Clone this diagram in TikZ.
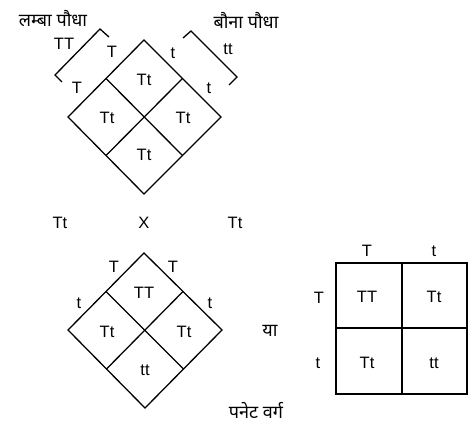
\documentclass[tikz,border=0pt]{standalone}
\usepackage{fontspec}
\usetikzlibrary{calc}
\setmainfont{Liberation Sans}
\newfontfamily\hindi[Script=Devanagari]{Noto Sans}
\begin{document}
\begin{tikzpicture}[x=1pt,y=-1pt,
  ln/.style={line width=1.3pt,line join=miter},
  lbl/.style={inner sep=0pt,font=\fontsize{16.5}{18}\selectfont},
  hlbl/.style={inner sep=0pt,font=\hindi\fontsize{18}{20}\selectfont}]
\useasboundingbox (0,0) rectangle (472,433);
% top diamond
\coordinate (at) at (144,40);
\coordinate (al) at (68,117);
\coordinate (ar) at (221,117);
\coordinate (ab) at (144,194);
\coordinate (ac) at (144,117);
\coordinate (aul) at ($(at)!0.5!(al)$);
\coordinate (aur) at ($(at)!0.5!(ar)$);
\coordinate (all) at ($(ab)!0.5!(al)$);
\coordinate (alr) at ($(ab)!0.5!(ar)$);
\draw[ln] (at) -- (al) -- (ab) -- (ar) -- cycle;
\draw[ln] (aul) -- (alr);
\draw[ln] (aur) -- (all);
% brackets
\coordinate (b1a) at (109,37);
\coordinate (b1b) at (100,29);
\coordinate (b1c) at (55,75);
\coordinate (b1d) at (62,82);
\draw[ln] (b1a) -- (b1b) -- (b1c) -- (b1d);
\coordinate (b2a) at (183,38);
\coordinate (b2b) at (191,31);
\coordinate (b2c) at (237,77);
\coordinate (b2d) at (229,85);
\draw[ln] (b2a) -- (b2b) -- (b2c) -- (b2d);
% top labels
\node[hlbl] (tall) at (53,19) {लम्बा पौधा};
\node[hlbl] (dwarf) at (246,20) {बौना पौधा};
\node[lbl] (lTT) at (64,44) {TT};
\node[lbl] (lT1) at (112,52) {T};
\node[lbl] (lT2) at (77,88) {T};
\node[lbl] (lt1) at (173,53) {t};
\node[lbl] (lt2) at (209,88) {t};
\node[lbl] (ltt) at (228,49) {tt};
\node[lbl] (c1) at (144,80) {Tt};
\node[lbl] (c2) at (107,118) {Tt};
\node[lbl] (c3) at (183,118) {Tt};
\node[lbl] (c4) at (144,155) {Tt};
% cross row
\node[lbl] (p1) at (60,223) {Tt};
\node[lbl] (px) at (144,223) {X};
\node[lbl] (p2) at (235,223) {Tt};
% bottom diamond
\coordinate (bt) at (144,253);
\coordinate (bl) at (68,330);
\coordinate (br) at (222,330);
\coordinate (bb) at (145,408);
\coordinate (bul) at ($(bt)!0.5!(bl)$);
\coordinate (bur) at ($(bt)!0.5!(br)$);
\coordinate (bll) at ($(bb)!0.5!(bl)$);
\coordinate (blr) at ($(bb)!0.5!(br)$);
\draw[ln] (bt) -- (bl) -- (bb) -- (br) -- cycle;
\draw[ln] (bul) -- (blr);
\draw[ln] (bur) -- (bll);
\node[lbl] (dT1) at (114,267) {T};
\node[lbl] (dT2) at (173,267) {T};
\node[lbl] (dt1) at (79,303) {t};
\node[lbl] (dt2) at (210,303) {t};
\node[lbl] (d1) at (144,293) {TT};
\node[lbl] (d2) at (107,332) {Tt};
\node[lbl] (d3) at (184,332) {Tt};
\node[lbl] (d4) at (145,370) {tt};
\node[hlbl] (ya) at (270,331) {या};
\node[hlbl] (punnett) at (256,410) {पनेट वर्ग};
% square grid
\coordinate (s1) at (336,263);
\coordinate (s2) at (467,394);
\coordinate (sm1) at (402,263);
\coordinate (sm2) at (402,394);
\coordinate (sm3) at (336,328);
\coordinate (sm4) at (467,328);
\draw[ln] (s1) rectangle (s2);
\draw[ln] (sm1) -- (sm2);
\draw[ln] (sm3) -- (sm4);
\node[lbl] (gT) at (367,251) {T};
\node[lbl] (gt) at (434,251) {t};
\node[lbl] (rT) at (319,298) {T};
\node[lbl] (rt) at (318,363) {t};
\node[lbl] (g1) at (367,297) {TT};
\node[lbl] (g2) at (434,297) {Tt};
\node[lbl] (g3) at (367,363) {Tt};
\node[lbl] (g4) at (434,363) {tt};
\end{tikzpicture}
\end{document}
